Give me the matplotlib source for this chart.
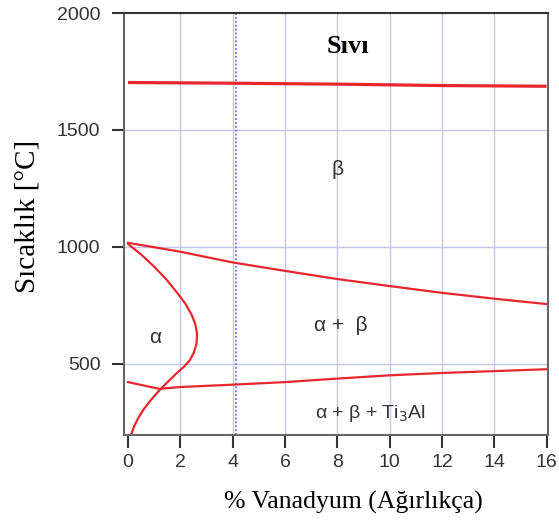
# ------------------------------------------------------------------------------
# -------------------------------------------------------------- IMPORT PACKAGES
import matplotlib
matplotlib.use('Agg')
import matplotlib.pyplot as plt

# ------------------------------------------------------------------------------
# ------------------------------------------------------------------------- DATA
# liquidus
liq_v = [0.0, 4.0, 8.0, 12.0, 16.0]
liq_t = [1703, 1700, 1696, 1690, 1687]

# beta transus
bt_v = [0.0, 2.0, 4.0, 6.0, 8.0, 10.0, 12.0, 14.0, 16.0]
bt_t = [1017, 979, 933, 897, 862, 832, 803, 778, 755]

# alpha solvus (C-shaped boundary)
as_v = [0.0, 0.5, 1.0, 1.5, 1.9, 2.2, 2.42, 2.57, 2.64, 2.62, 2.52, 2.36,
		2.15, 1.85, 1.5, 1.2, 0.88, 0.6, 0.38, 0.22, 0.13]
as_t = [1012, 967, 915, 856, 800, 755, 712, 670, 628, 585, 548, 514,
		488, 458, 420, 386, 345, 305, 265, 228, 200]

# alpha + beta / Ti3Al boundary
ti_v = [0.0, 1.2, 2.0, 4.0, 6.0, 8.0, 10.0, 12.0, 14.0, 16.0]
ti_t = [421, 392, 400, 410, 421, 436, 450, 460, 468, 476]

xticks = [0, 2, 4, 6, 8, 10, 12, 14, 16]
yticks = [500, 1000, 1500, 2000]

# ------------------------------------------------------------------------------
# ------------------------------------------------------------------------- PLOT
def plot_ti_v():
	red = '#e8262e'
	fig = plt.figure(figsize=(5.59, 5.24), dpi=100)
	ax = fig.add_axes([0.222, 0.170, 0.758, 0.805])

	ax.set_xlim(-0.15, 16.05)
	ax.set_ylim(195, 2000)

	# ------------------------------------------------------------------ GRID
	for x in xticks[1:-1]:
		ax.axvline(x, color='#c4c4ee', lw=1.0, zorder=0)
	for y in yticks[:-1]:
		ax.axhline(y, color='#c4c4ee', lw=1.0, zorder=0)
	ax.axvline(4.12, color='#8484dd', lw=1.4, ls=(0, (1, 1)), zorder=0)

	# ---------------------------------------------------------------- CURVES
	ax.plot(liq_v, liq_t, color=red, lw=2.3, solid_capstyle='butt')
	ax.plot(bt_v, bt_t, color=red, lw=1.6)
	ax.plot(as_v, as_t, color=red, lw=1.6)
	ax.plot(ti_v, ti_t, color=red, lw=1.6)

	# ---------------------------------------------------------------- LABELS
	ax.text(8.4, 1855, 'Sıvı', family='Liberation Serif', weight='bold',
			size=19, ha='center', va='center')
	ax.text(8.0, 1330, 'β', family='Liberation Sans', size=15,
			ha='center', va='center', color='#333333')
	ax.text(1.05, 612, 'α', family='Liberation Sans', size=15,
			ha='center', va='center', color='#333333')
	ax.text(8.15, 664, 'α +  β', family='Liberation Sans', size=15,
			ha='center', va='center', color='#333333')
	ax.text(9.25, 288, 'α + β + Ti$_3$Al', family='Liberation Sans', size=14,
			ha='center', va='center', color='#333333')

	# ------------------------------------------------------------------ AXES
	ax.set_xticks(xticks)
	ax.set_yticks(yticks)
	for lab in ax.get_xticklabels() + ax.get_yticklabels():
		lab.set_family('Liberation Sans')
		lab.set_size(14)
		lab.set_color('#333333')
	ax.tick_params(axis='x', direction='out', length=9, width=1.5,
				   color='#333333', pad=5)
	ax.tick_params(axis='y', direction='out', length=9, width=1.5,
				   color='#333333', pad=8)

	for s in ax.spines.values():
		s.set_color('#666666')
		s.set_linewidth(1.5)
	ax.spines['top'].set_color('#333333')

	ax.set_xlabel('% Vanadyum (Ağırlıkça)', family='Liberation Serif',
				  size=18.5, va='center', ha='center')
	ax.xaxis.set_label_coords(0.54, -0.159)
	ax.set_ylabel('Sıcaklık [°C]', family='Liberation Serif',
				  size=21, va='center', ha='center')
	ax.yaxis.set_label_coords(-0.229, 0.517)

	fig.savefig('out.png', dpi=100)
	plt.close(fig)

# ------------------------------------------------------------------------------
# ------------------------------------------------------------------------------
if __name__ == '__main__':
	plot_ti_v()
# ------------------------------------------------------------------------------
